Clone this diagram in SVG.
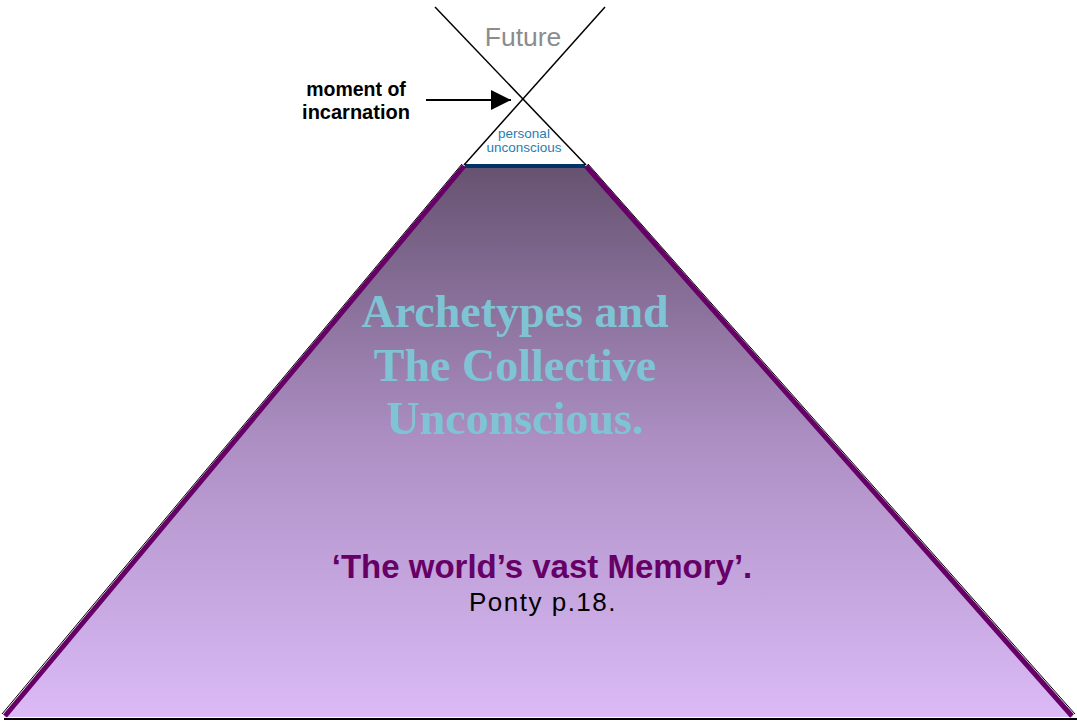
<svg xmlns="http://www.w3.org/2000/svg" width="1077" height="721" viewBox="0 0 1077 721">
<defs>
<linearGradient id="g" x1="0" y1="0" x2="0" y2="1">
<stop offset="0" stop-color="#665270"/>
<stop offset="0.5" stop-color="#ad8fc4"/>
<stop offset="1" stop-color="#dbbaf6"/>
</linearGradient>
<marker id="ah" viewBox="0 0 20 20" refX="20" refY="10" markerWidth="20" markerHeight="20" markerUnits="userSpaceOnUse" orient="auto">
<path d="M0,0 L20,10 L0,20 Z" fill="#000"/>
</marker>
<style>
.lbl{font-family:"Liberation Sans",Arial,sans-serif;text-anchor:middle}
.ser{font-family:"Liberation Serif","Times New Roman",serif;font-weight:bold;text-anchor:middle;fill:#7fc4d4}
</style>
</defs>
<rect width="1077" height="721" fill="#fff"/>
<g id="pyramid">
<polygon points="464,166 586,166 1073,717 4,717" fill="url(#g)"/>
<line x1="462" y1="164" x2="2" y2="714" stroke="#000" stroke-width="1"/>
<line x1="588" y1="164" x2="1075" y2="714" stroke="#000" stroke-width="1"/>
<line x1="464" y1="166" x2="5" y2="716" stroke="#660066" stroke-width="5"/>
<line x1="586" y1="166" x2="1072" y2="716" stroke="#660066" stroke-width="5"/>
<line x1="4" y1="719" x2="1077" y2="719" stroke="#000" stroke-width="2"/>
<line x1="465" y1="166" x2="585" y2="166" stroke="#003366" stroke-width="4"/>
</g>
<g id="hourglass">
<line x1="435" y1="7" x2="586" y2="165" stroke="#000" stroke-width="1.5"/>
<line x1="605" y1="7" x2="464" y2="165" stroke="#000" stroke-width="1.5"/>
</g>
<g id="connectors">
<line x1="426" y1="100" x2="511" y2="100" stroke="#000" stroke-width="2" marker-end="url(#ah)"/>
</g>
<g id="future"><text class="lbl" x="523" y="46" font-size="26.5" fill="#8c8c8c">Future</text></g>
<g id="moment"><text class="lbl" x="356" y="96" font-size="19.5" font-weight="bold" fill="#000">moment of</text><text class="lbl" x="356" y="119" font-size="20" font-weight="bold" fill="#000">incarnation</text></g>
<g id="personal"><text class="lbl" x="524" y="138" font-size="13.5" fill="#2a7cb0">personal</text><text class="lbl" x="524" y="152" font-size="13.5" fill="#2a7cb0">unconscious</text></g>
<g id="archetypes">
<text class="ser" x="515" y="327" font-size="46">Archetypes and</text>
<text class="ser" x="515" y="381" font-size="46">The Collective</text>
<text class="ser" x="515" y="434" font-size="46">Unconscious.</text>
</g>
<g id="memory">
<text class="lbl" x="542" y="578" font-size="33" font-weight="bold" fill="#660066">‘The world’s vast Memory’.</text>
<text class="lbl" x="543" y="611" font-size="26" letter-spacing="1.5" fill="#000">Ponty p.18.</text>
</g>
</svg>
